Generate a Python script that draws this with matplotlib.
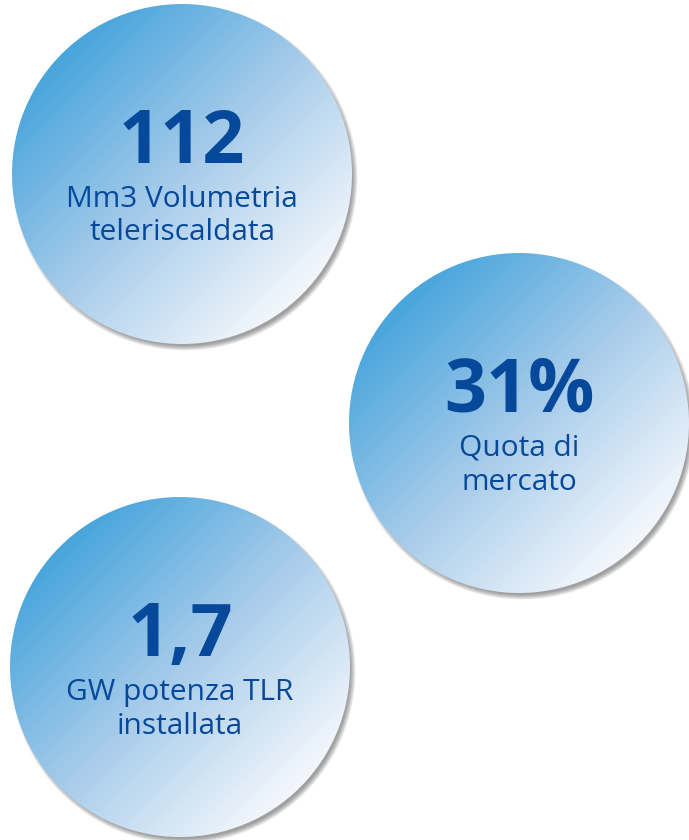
import numpy as np
import matplotlib
matplotlib.use("Agg")
import matplotlib.pyplot as plt
from matplotlib.patches import Circle
from matplotlib.colors import LinearSegmentedColormap

##### DATA #####
values = ["112", "31%", "1,7"]
labels = [["Mm3 Volumetria", "teleriscaldata"],
          ["Quota di", "mercato"],
          ["GW potenza TLR", "installata"]]

##### LAYOUT (pixels, y down) #####
centers = [(182, 174), (519, 423), (180, 667)]
radius = 170
text_col = "#06499b"

cmap = LinearSegmentedColormap.from_list("bubble", ["#48a5dc", "#a6cbea", "#f4f7fc"])

fig = plt.figure(figsize=(6.89, 8.40), dpi=100)
ax = fig.add_axes([0, 0, 1, 1])
ax.set_xlim(0, 689)
ax.set_ylim(840, 0)
ax.axis("off")

n = 300
yy, xx = np.mgrid[0:n, 0:n] / (n - 1)
s = ((2 * xx - 1) + (2 * yy - 1)) / np.sqrt(2)   # -1 .. 1 across the circle
grad = np.clip((s + 1) / 2, 0, 1)

for (cx, cy), val, lab in zip(centers, values, labels):
    # soft shadow towards bottom-right
    for k in range(8):
        ax.add_patch(Circle((cx + 3, cy + 4), radius + 2.5 - k * 0.7,
                            color="#303030", alpha=0.07, lw=0, zorder=1))
    circ = Circle((cx, cy), radius, transform=ax.transData, facecolor="none", lw=0)
    ax.add_patch(circ)
    im = ax.imshow(grad, cmap=cmap, vmin=0, vmax=1,
                   extent=(cx - radius, cx + radius, cy + radius, cy - radius),
                   interpolation="bilinear", zorder=2)
    im.set_clip_path(circ)
    ax.text(cx, cy - 11, val, ha="center", va="baseline", fontsize=53,
            fontweight="bold", family="Open Sans", color=text_col, zorder=3)
    for i, line in enumerate(lab):
        ax.text(cx, cy + 33 + i * 33.5, line, ha="center", va="baseline", fontsize=21.5,
                family="Open Sans", color=text_col, zorder=3)

ax.set_xlim(0, 689)
ax.set_ylim(840, 0)
fig.savefig("out.png", dpi=100, facecolor="white")
